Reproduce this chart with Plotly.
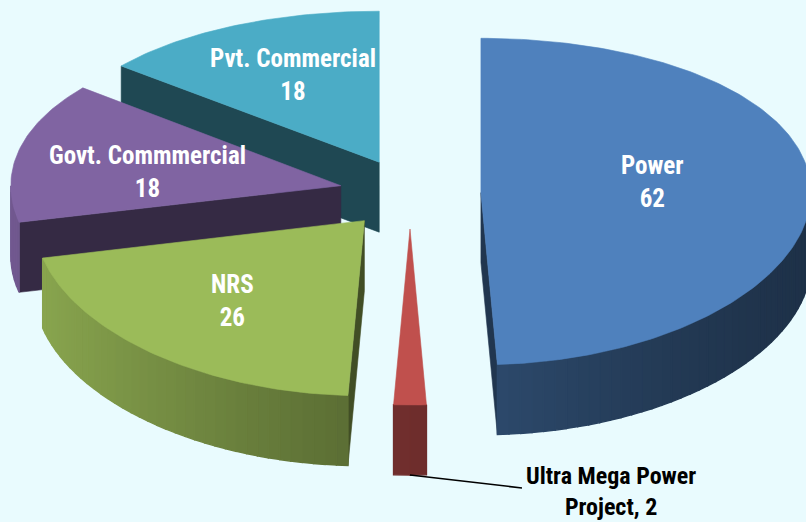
import numpy as np
import plotly.graph_objects as go

# ---- data ----
labels = ["Power", "Ultra Mega Power Project", "NRS", "Govt. Commmercial", "Pvt. Commercial"]
values = [62, 2, 26, 18, 18]
colors = ["#4F81BD", "#C0504D", "#9BBB59", "#8064A2", "#4BACC6"]
inside_text = ["Power<br>62", None, "NRS<br>26", "Govt. Commmercial<br>18", "Pvt. Commercial<br>18"]
outside_text = [None, "Ultra Mega Power<br>Project, 2", None, None, None]

# ---- 3D pie geometry (pixel space) ----
W, H = 806, 522
BG = "#E9FBFE"
CX, CY = 410.0, 193.5
RX = 330.0
A, K = 163.3, 8.87      # vertical scale with mild perspective
DEPTH = 70.0
PULL = 0.215
LABEL_R = [0.52, 0.6, 0.62, 0.6, 0.6]
LABEL_DY = [-9, 0, -1, 8, -3]
FONT = "Liberation Sans Narrow, Arial Narrow, Roboto Condensed, Liberation Sans, Arial, sans-serif"


def proj(u, v, z=0.0):
    u = np.asarray(u, float)
    v = np.asarray(v, float)
    return CX + RX * u, CY - A * v + K * v * v + z


def hex2rgb(h):
    h = h.lstrip("#")
    return tuple(int(h[i:i + 2], 16) for i in (0, 2, 4))


def shade(h, f):
    r, g, b = hex2rgb(h)
    return "rgb(%d,%d,%d)" % (min(255, r * f), min(255, g * f), min(255, b * f))


def side_factor(theta):
    s = -np.sin(theta)
    return 0.58 + 0.255 * s + 0.055 * s * s


fig = go.Figure()


def poly(xs, ys, color, lw=0.6):
    fig.add_trace(go.Scatter(
        x=list(xs) + [xs[0]], y=list(ys) + [ys[0]], mode="lines", fill="toself",
        fillcolor=color, line=dict(color=color, width=lw),
        hoverinfo="skip", showlegend=False))


total = float(sum(values))
bounds = np.concatenate([[0], np.cumsum(values)]) / total * 2 * np.pi
slices = []
for i in range(len(values)):
    t1, t2 = bounds[i], bounds[i + 1]
    mid = 0.5 * (t1 + t2)
    pu, pv = PULL * np.sin(mid), PULL * np.cos(mid)
    slices.append((i, t1, t2, mid, pu, pv))

# paint back to front
for i, t1, t2, mid, pu, pv in sorted(slices, key=lambda s: -s[5]):
    col = colors[i]
    # radial cut faces
    for t, vis in ((t1, np.sin(t1) < -1e-6), (t2, np.sin(t2) > 1e-6)):
        if vis:
            x0, y0 = proj(pu, pv)
            x1, y1 = proj(pu + np.sin(t), pv + np.cos(t))
            poly([x0, x1, x1, x0], [y0, y1, y1 + DEPTH, y0 + DEPTH], shade(col, 0.42))
    # outer curved side (front-facing part), shaded in strips
    a = max(t1, np.pi / 2)
    b = min(t2, 3 * np.pi / 2)
    if b > a:
        n = max(1, int(np.degrees(b - a) / 2))
        edges = np.linspace(a, b, n + 1)
        for k in range(n):
            ts = np.linspace(edges[k], edges[k + 1], 4)
            xs, ys = proj(pu + np.sin(ts), pv + np.cos(ts))
            f = side_factor(0.5 * (edges[k] + edges[k + 1]))
            poly(list(xs) + list(xs[::-1]), list(ys) + list((ys + DEPTH)[::-1]), shade(col, f), lw=1.4)
    # top face
    ts = np.linspace(t1, t2, max(6, int(np.degrees(t2 - t1))))
    xs, ys = proj(pu + np.sin(ts), pv + np.cos(ts))
    x0, y0 = proj(pu, pv)
    poly([float(x0)] + list(xs), [float(y0)] + list(ys), col)

# labels
for i, t1, t2, mid, pu, pv in slices:
    if inside_text[i]:
        r = LABEL_R[i]
        lx, ly = proj(pu + r * np.sin(mid), pv + r * np.cos(mid))
        fig.add_annotation(x=float(lx), y=float(ly) + LABEL_DY[i], text=inside_text[i], showarrow=False,
                           font=dict(family=FONT, size=25, color="white", weight="bold"))
    if outside_text[i]:
        bx, by = proj(pu + np.sin(mid), pv + np.cos(mid), DEPTH)
        ex, ey = float(bx) + 112, float(by) + 13
        fig.add_trace(go.Scatter(x=[float(bx), ex], y=[float(by), ey], mode="lines",
                                 line=dict(color="black", width=1.5),
                                 hoverinfo="skip", showlegend=False))
        fig.add_annotation(x=ex + 2, y=ey + 3, text=outside_text[i], showarrow=False,
                           xanchor="left", yanchor="middle",
                           font=dict(family=FONT, size=24, color="black", weight="bold"))

fig.update_layout(
    width=W, height=H, margin=dict(l=0, r=0, t=0, b=0),
    paper_bgcolor=BG, plot_bgcolor=BG,
    xaxis=dict(range=[0, W], visible=False, fixedrange=True),
    yaxis=dict(range=[H, 0], visible=False, fixedrange=True),
    showlegend=False,
)
fig.write_html("out.html", config={"displayModeBar": False},
               post_script="document.body.style.margin='0';document.body.style.background='%s';" % BG)
